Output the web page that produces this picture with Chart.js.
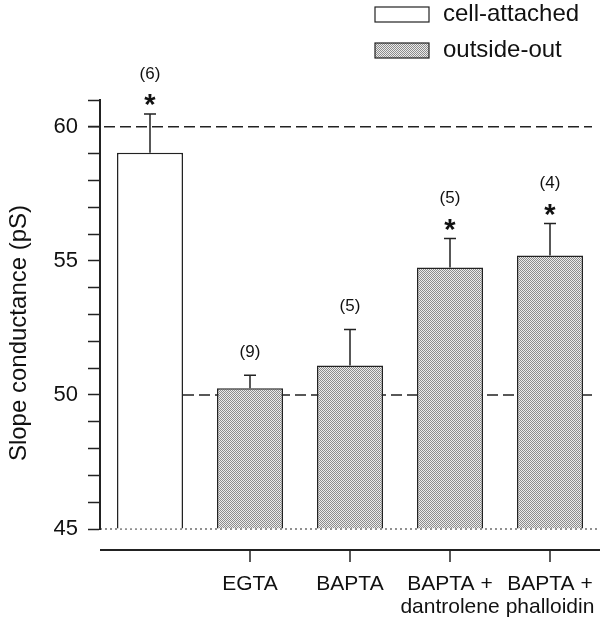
<!DOCTYPE html><html lang="en"><head><meta charset="utf-8"/>
<title>Slope conductance</title>
<script src="https://cdn.jsdelivr.net/npm/chart.js@4.4.1/dist/chart.umd.min.js"></script>
<style>
  *{box-sizing:border-box}
  body{margin:0;background:#fff}
  #wrap{width:607px;height:620px;position:relative}
</style></head><body>
<div id="wrap"><canvas id="c"></canvas></div>
<script>
// values
const categories = [[''], ['EGTA'], ['BAPTA'], ['BAPTA +', 'dantrolene'], ['BAPTA +', 'phalloidin']];
const cellAttached = [59.03, null, null, null, null];
const outsideOut = [null, 50.25, 51.1, 54.75, 55.2];
const sem = [1.45, 0.48, 1.34, 1.08, 1.19];
const nCells = [6, 9, 5, 5, 4];
const signif = [true, false, false, true, true];
const refLines = [60, 50];
const yTicks = [45, 50, 55, 60];

const FONT = 'Liberation Sans, Arial, Helvetica, sans-serif';

// stippled grey fill like the printed figure
function stipple(){
  const p = document.createElement('canvas'); p.width = 2; p.height = 2;
  const g = p.getContext('2d');
  g.fillStyle = '#ececec'; g.fillRect(0,0,2,2);
  g.fillStyle = '#8c8c8c'; g.fillRect(0,0,1,1); g.fillRect(1,1,1,1);
  return g.createPattern(p, 'repeat');
}
const grey = stipple();

const extras = {
  id: 'extras',
  beforeDatasetsDraw(chart){
    const {ctx, chartArea: a, scales: {x, y}} = chart;
    const bar0 = chart.getDatasetMeta(0).data[0];
    ctx.save();
    ctx.strokeStyle = '#222'; ctx.lineWidth = 1.5;
    // dashed reference lines
    ctx.setLineDash([11, 5]);
    ctx.beginPath();
    ctx.moveTo(a.left - 12, y.getPixelForValue(refLines[0]));
    ctx.lineTo(a.right - 8, y.getPixelForValue(refLines[0]));
    ctx.moveTo(bar0.x + bar0.width / 2, y.getPixelForValue(refLines[1]));
    ctx.lineTo(a.right - 8, y.getPixelForValue(refLines[1]));
    ctx.stroke();
    // dotted baseline
    ctx.setLineDash([2, 3]); ctx.lineWidth = 1.2;
    ctx.beginPath();
    ctx.moveTo(a.left, y.getPixelForValue(45));
    ctx.lineTo(a.right - 2, y.getPixelForValue(45));
    ctx.stroke();
    ctx.restore();
  },
  afterDatasetsDraw(chart){
    const {ctx, chartArea: a, scales: {x, y}} = chart;
    ctx.save();
    ctx.strokeStyle = '#222'; ctx.fillStyle = '#111'; ctx.lineWidth = 1.5;
    categories.forEach((c, i) => {
      const mean = cellAttached[i] != null ? cellAttached[i] : outsideOut[i];
      const px = x.getPixelForValue(i);
      const top = y.getPixelForValue(mean + sem[i]);
      ctx.beginPath();
      ctx.moveTo(px, y.getPixelForValue(mean)); ctx.lineTo(px, top);
      ctx.moveTo(px - 6, top); ctx.lineTo(px + 6, top);
      ctx.stroke();
      ctx.textAlign = 'center'; ctx.textBaseline = 'middle';
      if (signif[i]) {
        ctx.font = 'bold 29px ' + FONT;
        ctx.fillText('*', px, top - 8);
        ctx.font = '17px ' + FONT;
        ctx.fillText('(' + nCells[i] + ')', px, top - 40);
      } else {
        ctx.font = '17px ' + FONT;
        ctx.fillText('(' + nCells[i] + ')', px, top - 23);
      }
    });
    // detached x axis
    const axY = a.bottom + 21;
    ctx.lineWidth = 2;
    ctx.beginPath(); ctx.moveTo(a.left, axY); ctx.lineTo(a.right, axY); ctx.stroke();
    ctx.lineWidth = 1.5;
    ctx.font = '21px ' + FONT; ctx.textAlign = 'center'; ctx.textBaseline = 'alphabetic';
    categories.forEach((c, i) => {
      if (!c[0]) return;
      const px = x.getPixelForValue(i);
      ctx.beginPath(); ctx.moveTo(px, axY); ctx.lineTo(px, axY + 12); ctx.stroke();
      c.forEach((line, k) => ctx.fillText(line, px, axY + 40 + k * 23));
    });
    // legend
    const items = [['cell-attached', '#fff'], ['outside-out', grey]];
    ctx.font = '24px ' + FONT; ctx.textAlign = 'left'; ctx.textBaseline = 'middle';
    items.forEach(([label, fill], k) => {
      const ly = 14 + k * 36;
      ctx.fillStyle = fill; ctx.fillRect(375, ly - 7, 54, 15);
      ctx.lineWidth = 1.2; ctx.strokeRect(375, ly - 7, 54, 15);
      ctx.fillStyle = '#111'; ctx.fillText(label, 443, ly);
    });
    // y title
    ctx.translate(19, 333); ctx.rotate(-Math.PI / 2);
    ctx.font = '24px ' + FONT; ctx.textAlign = 'center';
    ctx.fillText('Slope conductance (pS)', 0, 0);
    ctx.restore();
  }
};

new Chart(document.getElementById('c'), {
  type: 'bar',
  data: {
    labels: categories,
    datasets: [
      {label: 'cell-attached', data: cellAttached, backgroundColor: '#fff', borderColor: '#222', borderWidth: 1.5},
      {label: 'outside-out', data: outsideOut, backgroundColor: grey, borderColor: '#222', borderWidth: 1.5}
    ]
  },
  options: {
    responsive: true, maintainAspectRatio: false, animation: false,
    layout: {padding: {top: 100, bottom: 91, right: 7, left: 0}},
    datasets: {bar: {grouped: false, barPercentage: 0.66, categoryPercentage: 1, base: 45}},
    plugins: {legend: {display: false}, tooltip: {enabled: false}},
    scales: {
      x: {display: false},
      y: {
        min: 45, max: 61,
        afterFit: s => { s.width = 100; },
        border: {display: true, color: '#222', width: 2},
        grid: {drawOnChartArea: false, tickLength: 12, tickColor: '#222', tickWidth: 1.5},
        ticks: {stepSize: 1, autoSkip: false, padding: 10, color: '#111', font: {family: FONT, size: 22},
          callback: v => yTicks.includes(v) ? v : ''}
      }
    }
  },
  plugins: [extras]
});
</script></body></html>
